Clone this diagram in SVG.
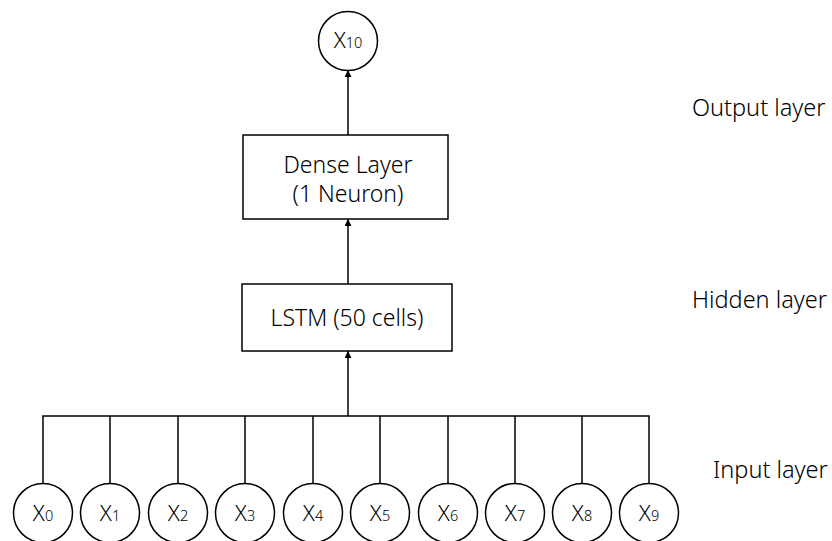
<svg xmlns="http://www.w3.org/2000/svg" width="832" height="541" viewBox="0 0 832 541">
  <style>
    .shape { fill: #ffffff; stroke: #000000; stroke-width: 1.5; }
    .wire { fill: none; stroke: #000000; stroke-width: 1.5; }
    .lbl { font-family: "Noto Sans", "Liberation Sans", sans-serif; font-weight: 300; fill: #000000; }
    .box { font-size: 23px; }
    .big { font-size: 22px; }
    .sub { font-size: 14.5px; }
    .side { font-size: 23.5px; }
  </style>
  <defs>
    <marker id="arrow" viewBox="0 0 10 10" refX="10" refY="5" markerWidth="7" markerHeight="7" markerUnits="userSpaceOnUse" orient="auto">
      <path d="M0,0 L10,5 L0,10 z" fill="#000000"/>
    </marker>
  </defs>

  <rect width="832" height="541" fill="#ffffff"/>

  <!-- connectors -->
  <g id="connectors">
    <line class="wire" x1="348" y1="135" x2="348" y2="70" marker-end="url(#arrow)"/>
    <line class="wire" x1="348" y1="284" x2="348" y2="219" marker-end="url(#arrow)"/>
    <line class="wire" x1="348" y1="416" x2="348" y2="351" marker-end="url(#arrow)"/>
    <path class="wire" d="M43,483 V416 H649 V483 M110,416 V483 M178,416 V483 M245,416 V483 M313,416 V483 M380,416 V483 M448,416 V483 M515,416 V483 M582,416 V483"/>
  </g>

  <!-- output neuron -->
  <g id="x10">
    <circle class="shape" cx="348" cy="41" r="29.5"/>
    <text class="lbl" x="348" y="48" text-anchor="middle"><tspan class="big">X</tspan><tspan class="sub">10</tspan></text>
  </g>

  <!-- dense layer -->
  <g id="dense">
    <rect class="shape" x="243" y="135" width="205" height="84"/>
    <text class="lbl box" x="348" y="173" text-anchor="middle">Dense Layer</text>
    <text class="lbl box" x="348" y="202" text-anchor="middle">(1 Neuron)</text>
  </g>

  <!-- lstm layer -->
  <g id="lstm">
    <rect class="shape" x="242" y="284" width="210" height="67"/>
    <text class="lbl box" x="347" y="326" text-anchor="middle">LSTM (50 cells)</text>
  </g>

  <!-- input neurons -->
  <g id="x0"><circle class="shape" cx="43" cy="513" r="29.5"/><text class="lbl" x="43" y="521" text-anchor="middle"><tspan class="big">X</tspan><tspan class="sub">0</tspan></text></g>
  <g id="x1"><circle class="shape" cx="110" cy="513" r="29.5"/><text class="lbl" x="110" y="521" text-anchor="middle"><tspan class="big">X</tspan><tspan class="sub">1</tspan></text></g>
  <g id="x2"><circle class="shape" cx="178" cy="513" r="29.5"/><text class="lbl" x="178" y="521" text-anchor="middle"><tspan class="big">X</tspan><tspan class="sub">2</tspan></text></g>
  <g id="x3"><circle class="shape" cx="245" cy="513" r="29.5"/><text class="lbl" x="245" y="521" text-anchor="middle"><tspan class="big">X</tspan><tspan class="sub">3</tspan></text></g>
  <g id="x4"><circle class="shape" cx="313" cy="513" r="29.5"/><text class="lbl" x="313" y="521" text-anchor="middle"><tspan class="big">X</tspan><tspan class="sub">4</tspan></text></g>
  <g id="x5"><circle class="shape" cx="380" cy="513" r="29.5"/><text class="lbl" x="380" y="521" text-anchor="middle"><tspan class="big">X</tspan><tspan class="sub">5</tspan></text></g>
  <g id="x6"><circle class="shape" cx="448" cy="513" r="29.5"/><text class="lbl" x="448" y="521" text-anchor="middle"><tspan class="big">X</tspan><tspan class="sub">6</tspan></text></g>
  <g id="x7"><circle class="shape" cx="515" cy="513" r="29.5"/><text class="lbl" x="515" y="521" text-anchor="middle"><tspan class="big">X</tspan><tspan class="sub">7</tspan></text></g>
  <g id="x8"><circle class="shape" cx="582" cy="513" r="29.5"/><text class="lbl" x="582" y="521" text-anchor="middle"><tspan class="big">X</tspan><tspan class="sub">8</tspan></text></g>
  <g id="x9"><circle class="shape" cx="649" cy="513" r="29.5"/><text class="lbl" x="649" y="521" text-anchor="middle"><tspan class="big">X</tspan><tspan class="sub">9</tspan></text></g>

  <!-- layer captions -->
  <g id="captions">
    <text class="lbl side" x="692" y="116">Output layer</text>
    <text class="lbl side" x="692" y="308">Hidden layer</text>
    <text class="lbl side" x="713" y="478">Input layer</text>
  </g>
</svg>
